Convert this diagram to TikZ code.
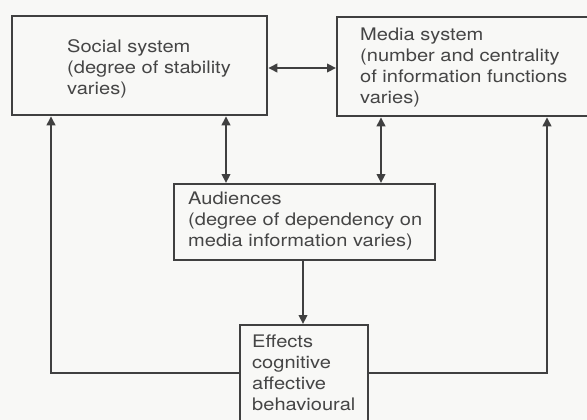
\documentclass[tikz,border=0pt]{standalone}
\usepackage{fontspec}
\setmainfont{TeX Gyre Heros}[FakeStretch=1.16]
\usetikzlibrary{arrows.meta}
\definecolor{ink}{HTML}{404040}
\definecolor{txt}{HTML}{454545}
\definecolor{bg}{HTML}{F8F8F6}
\begin{document}
\begin{tikzpicture}[x=1pt,y=1pt,
  box/.style={draw=ink, line width=2.3pt, rectangle, anchor=north west, inner sep=0pt},
  lbl/.style={anchor=north west, align=left, inner sep=0pt, text=txt, font=\fontsize{17.3}{21}\selectfont},
  conn/.style={draw=ink, line width=2.3pt},
  tipb/.style={{Triangle[length=9pt,width=8.5pt]}-{Triangle[length=9pt,width=8.5pt]}},
  tipe/.style={-{Triangle[length=9pt,width=8.5pt]}},
]
\fill[bg] (0,0) rectangle (587,-420);
\useasboundingbox (0,0) rectangle (587,-420);

\node[box, minimum width=255pt, minimum height=99pt] (social) at (11,-15) {};
\node[box, minimum width=259pt, minimum height=99pt] (media) at (336,-16) {};
\node[box, minimum width=261pt, minimum height=76pt] (aud) at (173,-183) {};
\node[box, minimum width=128pt, minimum height=104pt] (eff) at (239,-324) {};

\node[lbl] (socialtxt) at (67,-39.4) {Social system\\(degree of stability\\varies)};
\node[lbl] (mediatxt) at (360,-27.4) {Media system\\(number and centrality\\of information functions\\varies)};
\node[lbl] (audtxt) at (188,-191.4) {Audiences\\(degree of dependency on\\media information varies)};
\node[lbl] (efftxt) at (252,-334.4) {Effects\\cognitive\\affective\\behavioural};

\coordinate (hz) at (0,-68);
\coordinate (sa) at (226,0);
\coordinate (ma) at (381,0);
\coordinate (ae) at (303,0);
\coordinate (fbL) at (51,-373);
\coordinate (fbR) at (547,-373);

\draw[conn, tipb] (social.east |- hz) -- (media.west |- hz);
\draw[conn, tipb] (sa |- social.south) -- (sa |- aud.north);
\draw[conn, tipb] (ma |- media.south) -- (ma |- aud.north);
\draw[conn, tipe] (ae |- aud.south) -- (ae |- eff.north);
\draw[conn, tipe] (eff.west |- fbL) -- (fbL) -- (fbL |- social.south);
\draw[conn, tipe] (eff.east |- fbR) -- (fbR) -- (fbR |- media.south);
\end{tikzpicture}
\end{document}
